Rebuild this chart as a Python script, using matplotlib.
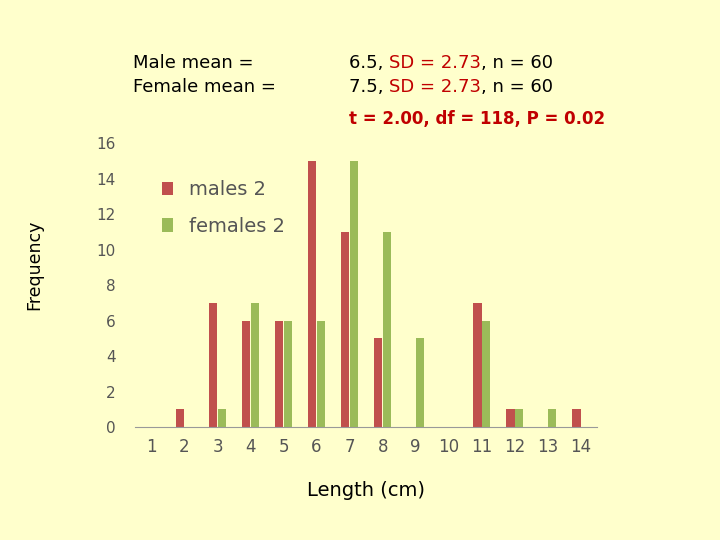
import numpy as np
import matplotlib.pyplot as plt

lengths = list(range(1, 15))
males = [0, 1, 7, 6, 6, 15, 11, 5, 0, 0, 7, 1, 0, 1]
females = [0, 0, 1, 7, 6, 6, 15, 11, 5, 0, 6, 1, 1, 0]

bg = '#FFFFCC'
red = '#C0504D'
green = '#9BBB59'

fig = plt.figure(figsize=(7.2, 5.4), dpi=100, facecolor=bg)
ax = fig.add_axes([0.1875, 0.209, 0.642, 0.526], facecolor=bg)

x = np.array(lengths)
ax.bar(x - 0.13, males, width=0.25, color=red, label='males 2')
ax.bar(x + 0.13, females, width=0.25, color=green, label='females 2')

ax.set_xlim(0.5, 14.5)
ax.set_ylim(0, 16)
ax.set_yticks(range(0, 17, 2))
ax.set_xticks(lengths)
for s in ['top', 'right', 'left']:
    ax.spines[s].set_visible(False)
ax.spines['bottom'].set_color('#999999')
ax.tick_params(axis='y', length=0, labelsize=11, labelcolor='#555555', pad=14)
ax.tick_params(axis='x', length=0, labelsize=12, labelcolor='#555555', pad=8)
ax.set_xlabel('Length (cm)', fontsize=14, labelpad=18)
fig.text(0.048, 0.51, 'Frequency', fontsize=12.5, rotation=90, ha='center', va='center')
ax.legend(loc='upper left', bbox_to_anchor=(0.02, 0.93), frameon=False,
          fontsize=14, handlelength=0.6, labelspacing=0.9, labelcolor='#555555')

fig.text(0.185, 0.875, 'Male mean =', fontsize=13)
fig.text(0.185, 0.83, 'Female mean =', fontsize=13)
for y, mean in [(0.875, '6.5'), (0.83, '7.5')]:
    t1 = fig.text(0.485, y, mean + ', ', fontsize=13)
    fig.canvas.draw()
    bb = t1.get_window_extent().transformed(fig.transFigure.inverted())
    t2 = fig.text(bb.x1, y, 'SD = 2.73', fontsize=13, color='#C00000')
    bb2 = t2.get_window_extent(fig.canvas.get_renderer()).transformed(fig.transFigure.inverted())
    fig.text(bb2.x1, y, ', n = 60', fontsize=13)
fig.text(0.485, 0.77, 't = 2.00, df = 118, P = 0.02', fontsize=12,
         color='#C00000', fontweight='bold')

fig.savefig('out.png', dpi=100, facecolor=bg)
